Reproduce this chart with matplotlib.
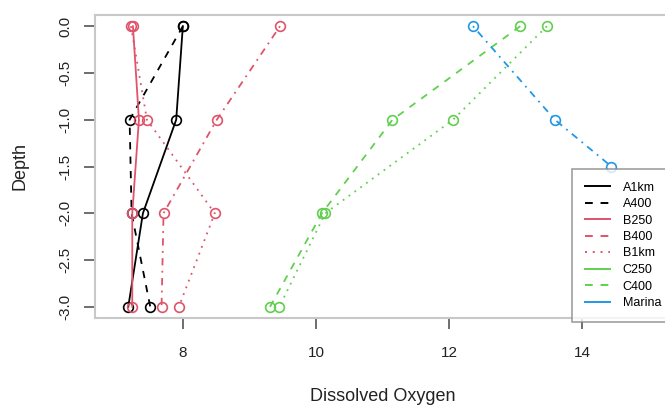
import numpy as np
import matplotlib.pyplot as plt
from matplotlib.lines import Line2D

plt.rcParams['font.family'] = ['Liberation Sans', 'DejaVu Sans']
plt.rcParams['axes.unicode_minus'] = False

# oxygen profiles, one list per station
stations = ['A1km', 'A400', 'B250', 'B400', 'B1km', 'C250', 'C400', 'Marina']
depths = [0, -1, -2, -3]
marina_depths = [0, -1, -1.5]
oxygen = {
    'A1km':   [8.00, 7.90, 7.40, 7.18],
    'A400':   [8.00, 7.20, 7.23, 7.51],
    'B250':   [7.25, 7.34, 7.24, 7.24],
    'B400':   [9.46, 8.51, 7.71, 7.68],
    'B1km':   [7.22, 7.46, 8.48, 7.94],
    'C250':   [13.07, 11.15, 10.09, 9.31],
    'C400':   [13.47, 12.06, 10.14, 9.45],
    'Marina': [12.36, 13.59, 14.44],
}

black, red, green, blue = 'black', '#DF536B', '#61D04F', '#2297E6'
solid, dashed, dotted, dotdash = '-', (0, (4, 4)), (0, (1, 3)), (0, (1, 3, 4, 3))
colors = [black, black, red, red, red, green, green, blue]
line_styles = [solid, dashed, solid, dotdash, dotted, dashed, dotted, dotdash]
key_styles = [solid, dashed, solid, dashed, dotted, solid, dashed, solid]

fig = plt.figure(figsize=(6.65, 4.08), dpi=100)
ax = fig.add_axes([95 / 665, 90 / 408, 575 / 665, 303 / 408])

for name, col, ls in zip(stations, colors, line_styles):
    vals = oxygen[name]
    dep = marina_depths if name == 'Marina' else depths
    ax.plot(vals, dep, color=col, linestyle=ls, lw=1.3, marker='o',
            markersize=7, markerfacecolor='none', markeredgewidth=1.2)

ax.set_xlim(6.68, 15.32)
ax.set_ylim(-3.12, 0.12)
ax.set_xticks([8, 10, 12, 14])
yt = np.arange(-3, 0.01, 0.5)
ax.set_yticks(yt)
ax.set_yticklabels(['%.1f' % v for v in yt], rotation=90, va='center')
ax.tick_params(length=8, width=1.2, color='#555555', labelsize=11,
               labelcolor='#222222')
ax.tick_params(axis='x', pad=12)
ax.tick_params(axis='y', pad=8)
for s in ax.spines.values():
    s.set_color('#c8c8c8')
    s.set_linewidth(1.5)

ax.set_xlabel('Dissolved Oxygen', fontsize=13, color='#222222', labelpad=20)
ax.set_ylabel('Depth', fontsize=13, color='#222222', labelpad=22)

handles = [Line2D([], [], color=c, linestyle=ls, lw=1.4)
           for c, ls in zip(colors, key_styles)]
leg = fig.legend(handles, stations, loc='upper left',
                 bbox_to_anchor=(572 / 665, 1 - 169 / 408), fontsize=9,
                 frameon=True, fancybox=False, handlelength=2.0,
                 handletextpad=1.05, labelspacing=0.36, borderpad=1.0,
                 borderaxespad=0)
leg.get_frame().set_edgecolor('#888888')
leg.get_frame().set_linewidth(1.2)

fig.savefig('out.png', dpi=100)
